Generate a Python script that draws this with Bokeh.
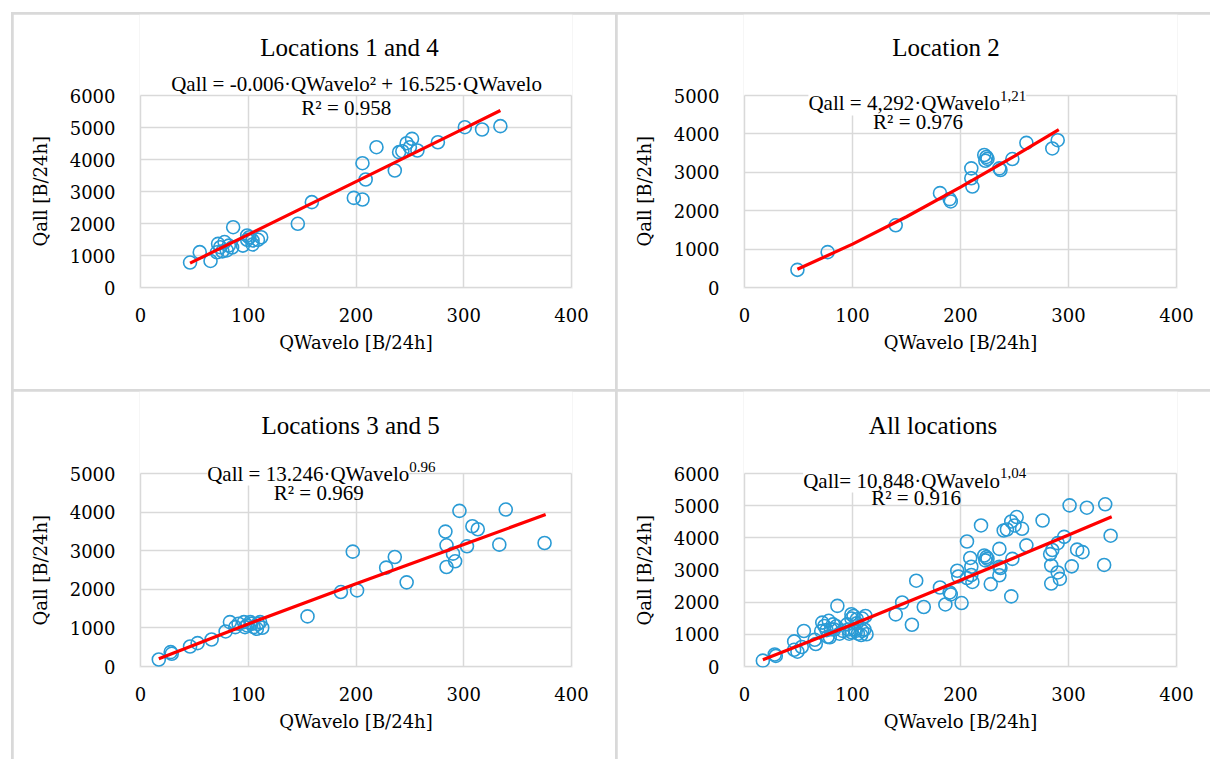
from bokeh.plotting import figure
from bokeh.models import Range1d, FixedTicker, Label, GridBox, Title, Grid
from bokeh.embed import file_html
from bokeh.resources import INLINE

FONT = "Liberation Serif, Times New Roman, serif"   # labels / headings
AXIS_FONT = "DejaVu Serif"                          # axis texts
BLUE = "#2A9BD5"
RED = "#FF0000"
GRID = "#D9D9D9"

# ---------------- data ----------------
x_ticks = [0, 100, 200, 300, 400]

loc14_x = [46, 55, 65, 72, 74, 78, 82, 71, 76, 80, 85, 86, 95, 99, 101, 104, 104, 109,
           112, 99, 146, 159, 198, 206, 206, 209, 219, 236, 240, 243, 247, 252, 250, 257,
           276, 301, 317, 334]
loc14_y = [780, 1104, 830, 1365, 1260, 1420, 1310, 1100, 1130, 1160, 1250, 1885, 1310,
           1625, 1570, 1470, 1345, 1490, 1570, 1490, 1990, 2667, 2800, 2750, 3885, 3375,
           4385, 3656, 4229, 4260, 4510, 4646, 4385, 4281, 4540, 5010, 4937, 5042]
trend14_x = [46, 100, 200, 300, 334]
trend14_y = [760, 1654, 3310, 4966, 5530]

loc2_x = [49, 77, 140, 181, 190, 191, 210, 210, 211, 222, 224, 225, 223, 236, 237, 248,
          261, 285, 290]
loc2_y = [460, 922, 1620, 2457, 2302, 2241, 3103, 2845, 2629, 3450, 3400, 3350, 3300,
          3103, 3060, 3345, 3767, 3621, 3836]
trend2_x = [49, 100, 150, 200, 250, 291]
trend2_y = [476, 1129, 1843, 2612, 3421, 4112]

loc35_x = [17, 28, 29, 46, 53, 66, 79, 83, 88, 91, 96, 99, 102, 105, 108, 111, 113, 109,
           97, 103, 155, 186, 201, 197, 228, 236, 247, 283, 284, 284, 290, 292, 296, 303,
           308, 313, 333, 339, 375]
loc35_y = [182, 372, 329, 519, 606, 700, 908, 1150, 1020, 1107, 1150, 1064, 1150, 1020,
           977, 1150, 1003, 1107, 1020, 1107, 1298, 1929, 1972, 2976, 2561, 2837, 2180,
           3495, 3140, 2578, 2924, 2725, 4031, 3114, 3633, 3555, 3157, 4066, 3200]
trend35_x = [17, 100, 200, 300, 376]
trend35_y = [201, 1102, 2143, 3163, 3935]

# "All locations": every point above (the x=375 point of locations 3/5 is not shown)
# plus one point only visible in this panel
extra_x = [166]
extra_y = [1850]
all_x = loc14_x + loc2_x + loc35_x[:-1] + extra_x
all_y = loc14_y + loc2_y + loc35_y[:-1] + extra_y
trendall_x = [17, 100, 200, 300, 340]
trendall_y = [207, 1304, 2682, 4088, 4655]

titles = ["Locations 1 and 4", "Location 2", "Locations 3 and 5", "All locations"]

HAS_CB = "cross_bounds" in Grid.properties()


def make_panel(xs, ys, tx, ty, ymax, w, h, ml, mr, ext_top, plot_h, mb):
    # frame extends 1px left/right/bottom and ext_top px above the plot area,
    # so that the headings/equations (drawn as labels) are not clipped
    fw = w - ml - mr
    plot_w = fw - 2
    px = 400.0 / plot_w
    py = ymax / float(plot_h)
    fh = h - mb
    p = figure(width=w, height=h,
               x_range=Range1d(-px, 400 + px),
               y_range=Range1d(-py, ymax + py * (fh - plot_h - 1)),
               output_backend="svg", toolbar_location=None,
               min_border_left=ml, min_border_right=mr,
               min_border_top=0, min_border_bottom=mb)
    p.background_fill_color = "white"
    p.border_fill_color = "white"
    p.outline_line_color = None
    p.xaxis.ticker = FixedTicker(ticks=x_ticks)
    p.yaxis.ticker = FixedTicker(ticks=list(range(0, ymax + 1, 1000)))
    for g in (p.xgrid, p.ygrid):
        g.grid_line_color = GRID
        g.grid_line_width = 1.5
    if HAS_CB:
        p.xgrid.cross_bounds = (0, ymax)
        p.ygrid.cross_bounds = (0, 400)
    else:
        p.xgrid.visible = False
        p.segment(x0=x_ticks, y0=[0] * len(x_ticks), x1=x_ticks, y1=[ymax] * len(x_ticks),
                  line_color=GRID, line_width=1.5)
    for ax in (p.xaxis, p.yaxis):
        ax.axis_line_color = None
        ax.major_tick_line_color = None
        ax.minor_tick_line_color = None
        ax.major_label_text_font = AXIS_FONT
        ax.major_label_text_font_size = "18px"
        ax.major_label_text_color = "black"
        ax.axis_label_text_font = AXIS_FONT
        ax.axis_label_text_font_size = "18px"
        ax.axis_label_text_font_style = "normal"
        ax.axis_label_text_color = "black"
    p.xaxis.axis_label = "QWavelo [B/24h]"
    p.xaxis.major_label_standoff = 13
    p.yaxis.major_label_standoff = 18
    p.xaxis.axis_label_standoff = 7
    # y axis label as a left-side title, positioned along the plot area only
    p.add_layout(Title(text="Qall [B/24h]", align="left", offset=42, vertical_align="middle",
                       standoff=30, text_font=AXIS_FONT, text_font_size="18px",
                       text_font_style="normal", text_color="black"), "left")
    p.scatter(xs, ys, marker="circle", size=13, fill_color=None,
              line_color=BLUE, line_width=1.6)
    p.line(tx, ty, line_color=RED, line_width=3.2)
    return p


def label(p, x, y, text, size="21px", align="center", baseline="middle", bg=None):
    p.add_layout(Label(x=x, y=y, text=text, text_font=FONT, text_font_size=size,
                       text_color="black", text_align=align, text_baseline=baseline,
                       background_fill_color=bg))


# cells: left 602 wide, right 593 wide, top 375 tall, bottom 368 tall
p1 = make_panel(loc14_x, loc14_y, trend14_x, trend14_y, 6000, 602, 375, 124, 43, 81, 192, 101)
p2 = make_panel(loc2_x, loc2_y, trend2_x, trend2_y, 5000, 593, 375, 125, 33, 81, 192, 101)
p3 = make_panel(loc35_x, loc35_y, trend35_x, trend35_y, 5000, 602, 368, 124, 43, 82, 193, 92)
p4 = make_panel(all_x, all_y, trendall_x, trendall_y, 6000, 593, 368, 125, 33, 82, 193, 92)

# headings
label(p1, 194, 7500, titles[0], size="25px")
label(p2, 186.6, 6250, titles[1], size="25px")
label(p3, 195, 6244, titles[2], size="25px")
label(p4, 174.6, 7491, titles[3], size="25px")

# equations
label(p1, 200.5, 6344, "Qall = -0.006·QWavelo² + 16.525·QWavelo")
label(p1, 191, 5594, "R² = 0.958")

label(p2, 236.5, 4792, "Qall = 4,292·QWavelo", align="right", baseline="alphabetic", bg="white")
label(p2, 236.5, 4974, "1,21", size="15px", align="left", baseline="alphabetic", bg="white")
label(p2, 160.7, 4297, "R² = 0.976")

label(p3, 249.4, 5000, "Qall = 13.246·QWavelo", align="right", baseline="alphabetic", bg="white")
label(p3, 249.4, 5163, "0.96", size="15px", align="left", baseline="alphabetic", bg="white")
label(p3, 165.4, 4482, "R² = 0.969")

label(p4, 236.5, 5782, "Qall= 10,848·QWavelo", align="right", baseline="alphabetic", bg="white")
label(p4, 236.5, 6009, "1,04", size="15px", align="left", baseline="alphabetic", bg="white")
label(p4, 158.9, 5253, "R² = 0.916")

grid = GridBox(children=[(p1, 0, 0), (p2, 0, 1), (p3, 1, 0), (p4, 1, 1)], spacing=2,
               margin=(12, 0, 0, 11),
               styles={"background-color": GRID, "padding-top": "2px",
                       "padding-left": "2px"})

open("out.html", "w").write(file_html(grid, INLINE))
